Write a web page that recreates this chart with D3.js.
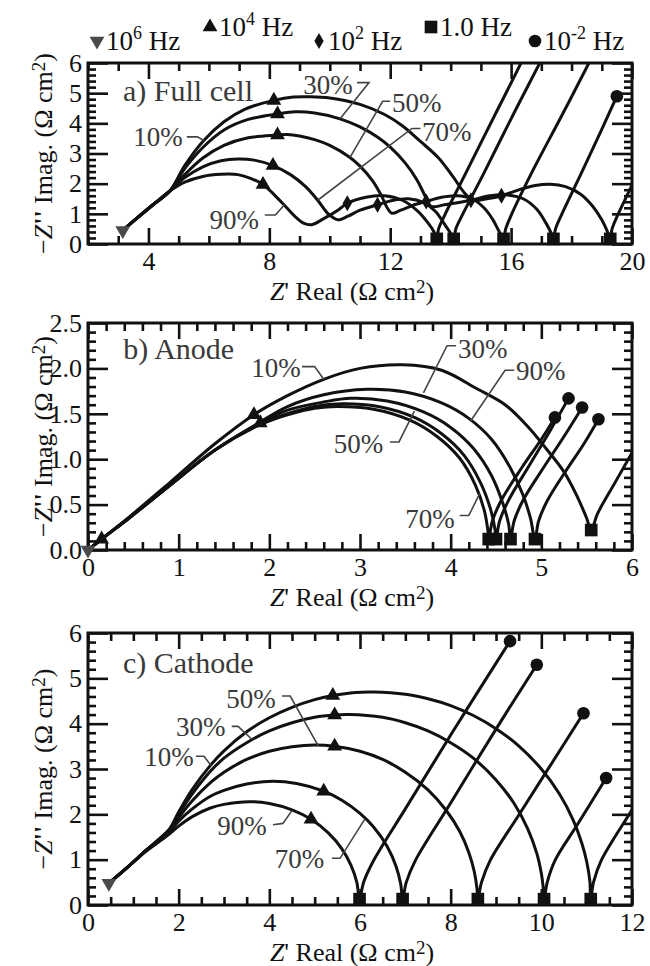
<!DOCTYPE html>
<html>
<head>
<meta charset="utf-8">
<script src="https://cdn.jsdelivr.net/npm/d3@7"></script>
<style>
  body { margin: 0; background: #fff; }
  .tick line { stroke: #111; stroke-width: 2.6; }
  .domain { display: none; }
</style>
</head>
<body>
<svg id="chart" width="650" height="966"></svg>
<script>
// ---------------- Full cell impedance spectra (Z', -Z'') ----------------
const full10 = [[3.15,0.45],[3.6,0.84],[4.1,1.26],[4.7,1.75],[5.2,2.6],[5.83,3.43],[6.5,4.05],[7.2,4.47],[8.15,4.76],[8.8,4.87],[9.33,4.88],[10.0,4.84],[11.0,4.63],[11.8,4.3],[12.4,3.92],[13.0,3.4],[13.6,2.85],[14.1,2.2],[14.45,1.7],[14.75,1.45],[15.2,1.5],[15.68,1.6],[16.3,1.81],[16.8,1.94],[17.3,1.98],[17.8,1.9],[18.3,1.65],[18.7,1.25],[19.0,0.8],[19.17,0.45],[19.28,0.17],[19.34,0.5],[19.5,0.9],[20.0,1.95],[20.3,2.6]];
const full30 = [[3.15,0.45],[3.6,0.84],[4.1,1.26],[4.7,1.75],[5.2,2.5],[5.8,3.2],[6.5,3.78],[7.3,4.13],[8.27,4.31],[8.86,4.38],[9.5,4.34],[10.34,4.15],[11.0,3.88],[11.6,3.53],[12.0,3.21],[12.5,2.68],[12.9,2.1],[13.15,1.6],[13.35,1.25],[13.8,1.3],[14.67,1.45],[15.3,1.6],[15.9,1.62],[16.4,1.5],[16.85,1.15],[17.15,0.7],[17.33,0.35],[17.4,0.17],[17.47,0.5],[17.66,0.95],[18.3,2.3],[19.0,3.8],[19.5,4.9]];
const full50 = [[3.15,0.45],[3.6,0.84],[4.1,1.26],[4.7,1.75],[5.2,2.3],[5.8,2.85],[6.5,3.27],[7.3,3.52],[8.27,3.61],[8.6,3.63],[9.0,3.58],[9.5,3.46],[10.0,3.27],[10.67,2.87],[11.0,2.58],[11.4,2.12],[11.7,1.62],[11.9,1.2],[12.05,1.02],[12.35,1.12],[12.8,1.3],[13.19,1.41],[13.7,1.55],[14.2,1.6],[14.7,1.5],[15.1,1.2],[15.4,0.8],[15.6,0.42],[15.75,0.17],[15.82,0.5],[16.0,0.95],[16.7,2.4],[17.7,4.3],[18.6,6.05],[18.8,6.45]];
const full70 = [[3.15,0.45],[3.6,0.84],[4.1,1.26],[4.7,1.75],[5.2,2.2],[5.8,2.56],[6.4,2.76],[6.96,2.82],[7.5,2.78],[8.12,2.6],[8.7,2.3],[9.2,1.9],[9.6,1.45],[9.95,1.0],[10.28,0.8],[10.6,0.92],[11.0,1.12],[11.58,1.3],[12.1,1.45],[12.6,1.5],[13.1,1.38],[13.5,1.08],[13.8,0.65],[14.0,0.35],[14.1,0.17],[14.17,0.5],[14.38,0.95],[15.1,2.35],[16.1,4.35],[17.0,6.1],[17.2,6.5]];
const full90 = [[3.15,0.45],[3.6,0.84],[4.1,1.26],[4.7,1.75],[5.2,2.05],[5.8,2.24],[6.4,2.31],[6.96,2.3],[7.4,2.17],[7.79,1.97],[8.38,1.41],[8.86,0.9],[9.15,0.68],[9.4,0.64],[9.8,0.84],[10.28,1.13],[10.58,1.35],[11.2,1.55],[11.8,1.6],[12.4,1.45],[12.9,1.1],[13.25,0.7],[13.45,0.4],[13.54,0.17],[13.6,0.5],[13.8,0.95],[14.5,2.35],[15.5,4.35],[16.35,6.05],[16.5,6.4]];
// frequency markers on the full cell curves
const fullHz6 = [[3.15,0.45]];
const fullHz4 = [[8.15,4.76],[8.27,4.31],[8.27,3.61],[8.12,2.6],[7.79,1.97]];
const fullHz2 = [[15.68,1.6],[14.67,1.45],[13.19,1.41],[11.58,1.3],[10.58,1.35]];
const fullHz1 = [[19.28,0.17],[17.4,0.17],[15.75,0.17],[14.1,0.17],[13.54,0.17]];
const fullHzLow = [[19.5,4.9]];

// ---------------- Anode ----------------
const anode10 = [[0,0],[0.15,0.12],[0.45,0.36],[0.9,0.74],[1.4,1.17],[1.83,1.49],[2.2,1.7],[2.6,1.88],[3.0,2.0],[3.47,2.04],[3.9,1.98],[4.3,1.77],[4.6,1.6],[4.85,1.36],[5.05,1.12],[5.25,0.86],[5.4,0.58],[5.5,0.35],[5.55,0.22],[5.62,0.4],[5.8,0.72],[6.0,1.07],[6.1,1.25]];
const anode30 = [[0,0],[0.15,0.12],[0.45,0.35],[0.9,0.71],[1.4,1.1],[1.9,1.41],[2.2,1.58],[2.6,1.71],[3.08,1.77],[3.5,1.74],[3.9,1.62],[4.2,1.45],[4.45,1.22],[4.65,0.92],[4.8,0.6],[4.88,0.35],[4.93,0.12],[4.97,0.32],[5.07,0.55],[5.27,0.87],[5.47,1.17],[5.63,1.44]];
const anode50 = [[0,0],[0.15,0.12],[0.45,0.35],[0.9,0.71],[1.4,1.1],[1.9,1.4],[2.2,1.54],[2.6,1.63],[2.9,1.67],[3.3,1.64],[3.7,1.52],[4.0,1.35],[4.25,1.12],[4.45,0.82],[4.58,0.5],[4.64,0.28],[4.66,0.12],[4.7,0.32],[4.8,0.55],[5.0,0.87],[5.25,1.25],[5.45,1.57]];
const anode70 = [[0,0],[0.15,0.12],[0.45,0.35],[0.9,0.71],[1.4,1.1],[1.9,1.39],[2.2,1.5],[2.5,1.58],[2.8,1.61],[3.2,1.58],[3.6,1.46],[3.9,1.28],[4.15,1.04],[4.33,0.74],[4.44,0.45],[4.49,0.22],[4.5,0.12],[4.54,0.32],[4.64,0.55],[4.86,0.92],[5.1,1.32],[5.3,1.67]];
const anode90 = [[0,0],[0.15,0.12],[0.45,0.35],[0.9,0.71],[1.4,1.1],[1.9,1.38],[2.2,1.49],[2.5,1.56],[2.75,1.58],[3.15,1.55],[3.55,1.43],[3.85,1.25],[4.1,1.01],[4.27,0.72],[4.37,0.44],[4.41,0.22],[4.42,0.12],[4.46,0.32],[4.56,0.55],[4.78,0.9],[5.0,1.22],[5.15,1.46]];
const anodeHz6 = [[0.0,0.0]];
const anodeHz4 = [[0.15,0.12],[1.83,1.49],[1.9,1.4]];
const anodeHz1 = [[5.55,0.22],[4.93,0.12],[4.66,0.12],[4.5,0.12],[4.42,0.12]];
const anodeHzLow = [[5.63,1.44],[5.45,1.57],[5.3,1.67],[5.15,1.46]];

// ---------------- Cathode ----------------
const cath10 = [[0.46,0.48],[0.9,0.86],[1.3,1.22],[1.6,1.48],[1.8,1.68],[2.0,2.05],[2.3,2.55],[2.7,3.08],[3.0,3.4],[3.5,3.82],[4.0,4.13],[4.5,4.36],[5.0,4.53],[5.4,4.62],[5.9,4.69],[6.3,4.7],[7.0,4.65],[7.5,4.55],[8.0,4.4],[8.5,4.18],[9.0,3.89],[9.5,3.51],[10.0,3.0],[10.4,2.45],[10.7,1.88],[10.9,1.34],[11.0,0.96],[11.07,0.53],[11.09,0.13],[11.15,0.5],[11.32,0.98],[12.0,2.1],[12.3,2.6]];
const cath30 = [[0.46,0.48],[0.9,0.86],[1.3,1.22],[1.6,1.48],[1.8,1.67],[2.0,2.0],[2.3,2.45],[2.7,2.95],[3.0,3.24],[3.5,3.58],[4.0,3.84],[4.5,4.02],[5.0,4.14],[5.44,4.19],[5.75,4.2],[6.5,4.14],[7.0,4.02],[7.5,3.84],[8.0,3.58],[8.5,3.24],[9.0,2.76],[9.4,2.24],[9.7,1.68],[9.9,1.14],[10.0,0.7],[10.04,0.4],[10.06,0.13],[10.13,0.5],[10.3,0.98],[10.8,1.78],[11.43,2.8]];
const cath50 = [[0.46,0.48],[0.9,0.86],[1.3,1.22],[1.6,1.47],[1.8,1.64],[2.0,1.93],[2.3,2.3],[2.7,2.7],[3.0,2.93],[3.5,3.21],[4.0,3.39],[4.5,3.49],[5.0,3.53],[5.44,3.5],[6.0,3.39],[6.5,3.21],[7.0,2.93],[7.5,2.54],[7.9,2.09],[8.2,1.62],[8.4,1.16],[8.52,0.74],[8.58,0.37],[8.6,0.13],[8.68,0.5],[8.87,0.98],[9.5,1.98],[10.2,3.08],[10.93,4.23]];
const cath70 = [[0.46,0.48],[0.9,0.86],[1.3,1.22],[1.6,1.46],[1.8,1.62],[2.0,1.85],[2.3,2.12],[2.7,2.4],[3.0,2.53],[3.5,2.67],[4.07,2.73],[4.6,2.68],[5.2,2.51],[5.6,2.31],[6.0,2.02],[6.3,1.72],[6.6,1.29],[6.8,0.84],[6.9,0.45],[6.94,0.13],[7.02,0.5],[7.22,0.98],[8.0,2.25],[9.0,3.88],[9.9,5.3]];
const cath90 = [[0.46,0.48],[0.9,0.86],[1.3,1.2],[1.6,1.42],[1.8,1.57],[2.0,1.74],[2.3,1.95],[2.7,2.14],[3.0,2.22],[3.55,2.28],[4.0,2.24],[4.5,2.1],[4.92,1.89],[5.3,1.59],[5.6,1.24],[5.8,0.88],[5.93,0.5],[5.99,0.13],[6.08,0.5],[6.3,0.98],[7.0,2.12],[8.0,3.75],[9.31,5.82]];
const cathHz6 = [[0.46,0.48]];
const cathHz4 = [[5.4,4.62],[5.44,4.19],[5.44,3.5],[5.2,2.51],[4.92,1.89]];
const cathHz1 = [[11.09,0.13],[10.06,0.13],[8.6,0.13],[6.94,0.13],[5.99,0.13]];
const cathHzLow = [[11.43,2.8],[10.93,4.23],[9.9,5.3],[9.31,5.82]];

// ---------------- Axis ticks ----------------
const fullXTicks = [4, 8, 12, 16, 20];
const fullYTicks = [0, 1, 2, 3, 4, 5, 6];
const anodeXTicks = [0, 1, 2, 3, 4, 5, 6];
const anodeYTicks = [0, 0.5, 1.0, 1.5, 2.0, 2.5];
const cathXTicks = [0, 2, 4, 6, 8, 10, 12];
const cathYTicks = [0, 1, 2, 3, 4, 5, 6];

const FONT = "'Liberation Serif','Times New Roman',Times,serif";
const INK = '#111';
const GREY = '#3a3a3a';
const svg = d3.select('#chart');

const panels = [
  { id: 'a', x0: 88, x1: 632, y0: 63, y1: 244, xd: [2, 20], yd: [0, 6],
    xMajor: fullXTicks, xMinor: d3.range(2, 20.001, 1), yMajor: fullYTicks, yMinor: d3.range(0, 6.001, 0.2),
    xFmt: d3.format('d'), yFmt: d3.format('d'),
    series: [full10, full30, full50, full70, full90],
    hz6: fullHz6, hz4: fullHz4, hz2: fullHz2, hz1: fullHz1, hzLow: fullHzLow,
    title: { text: 'a) Full cell', at: [3.16, 4.73] },
    labels: [
      { text: '10%', at: [3.5, 3.25], leader: [[5.27, 3.55], [5.62, 3.55], [5.83, 3.43]] },
      { text: '30%', at: [9.12, 4.96], leader: [[10.9, 5.35], [11.3, 5.35], [10.34, 4.15]] },
      { text: '50%', at: [12.06, 4.39], leader: [[12.0, 4.73], [11.75, 4.73], [10.67, 2.87]] },
      { text: '70%', at: [13.05, 3.43], leader: [[13.0, 3.83], [12.72, 3.83], [9.6, 1.45]] },
      { text: '90%', at: [6.02, 0.5], leader: [[7.85, 0.96], [8.2, 0.96], [8.5, 1.3]] }
    ] },
  { id: 'b', x0: 88, x1: 632, y0: 323, y1: 550, xd: [0, 6], yd: [0, 2.5],
    xMajor: anodeXTicks, xMinor: d3.range(0, 6.001, 0.2), yMajor: anodeYTicks, yMinor: d3.range(0, 2.501, 0.1),
    xFmt: d3.format('d'), yFmt: d3.format('.1f'),
    series: [anode10, anode30, anode50, anode70, anode90],
    hz6: anodeHz6, hz4: anodeHz4, hz2: [], hz1: anodeHz1, hzLow: anodeHzLow,
    title: { text: 'b) Anode', at: [0.39, 2.1] },
    labels: [
      { text: '10%', at: [1.8, 1.9], leader: [[2.36, 2.02], [2.5, 2.02], [2.6, 1.88]] },
      { text: '30%', at: [4.08, 2.12], leader: [[4.06, 2.25], [3.96, 2.25], [3.7, 1.73]] },
      { text: '90%', at: [4.72, 1.87], leader: [[4.7, 1.98], [4.6, 1.98], [4.22, 1.42]] },
      { text: '50%', at: [2.71, 1.07], leader: [[3.33, 1.19], [3.43, 1.19], [3.6, 1.53]] },
      { text: '70%', at: [3.5, 0.24], leader: [[4.1, 0.38], [4.2, 0.38], [4.32, 0.62]] }
    ] },
  { id: 'c', x0: 88, x1: 632, y0: 633, y1: 905, xd: [0, 12], yd: [0, 6],
    xMajor: cathXTicks, xMinor: d3.range(0, 12.001, 0.5), yMajor: cathYTicks, yMinor: d3.range(0, 6.001, 0.2),
    xFmt: d3.format('d'), yFmt: d3.format('d'),
    series: [cath10, cath30, cath50, cath70, cath90],
    hz6: cathHz6, hz4: cathHz4, hz2: [], hz1: cathHz1, hzLow: cathHzLow,
    title: { text: 'c) Cathode', at: [0.77, 5.12] },
    labels: [
      { text: '50%', at: [3.05, 4.35], leader: [[4.28, 4.61], [4.46, 4.61], [5.08, 3.51]] },
      { text: '30%', at: [1.94, 3.72], leader: [[3.17, 3.94], [3.31, 3.94], [3.62, 3.65]] },
      { text: '10%', at: [1.24, 3.06], leader: [[2.38, 3.28], [2.56, 3.28], [2.71, 3.08]] },
      { text: '90%', at: [2.85, 1.54], leader: [[4.08, 1.77], [4.3, 1.8], [4.49, 2.07]] },
      { text: '70%', at: [4.12, 0.81], leader: [[5.38, 1.03], [5.56, 1.03], [6.11, 1.9]] }
    ] }
];

const symTri = d3.symbol().type(d3.symbolTriangle).size(95);
const symSq = d3.symbol().type(d3.symbolSquare).size(160);
const symCirc = d3.symbol().type(d3.symbolCircle).size(125);
const symDia = d3.symbol().type(d3.symbolDiamond).size(75);

function drawAxes(g, p, x, y) {
  const notIn = (arr) => (v) => !arr.some(m => Math.abs(m - v) < 1e-6);
  const xMin = p.xMinor.filter(notIn(p.xMajor));
  const yMin = p.yMinor.filter(notIn(p.yMajor));
  const font = (sel) => sel.attr('font-family', FONT).attr('font-size', 26).attr('fill', INK);

  // bottom
  g.append('g').attr('transform', `translate(0,${p.y1})`)
    .call(d3.axisBottom(x).tickValues(xMin).tickSize(-8).tickFormat(''));
  g.append('g').attr('transform', `translate(0,${p.y1})`)
    .call(d3.axisBottom(x).tickValues(p.xMajor).tickSize(-16).tickPadding(8).tickFormat(p.xFmt))
    .call(ax => ax.selectAll('text').call(font));
  // top
  g.append('g').attr('transform', `translate(0,${p.y0})`)
    .call(d3.axisTop(x).tickValues(xMin).tickSize(-8).tickFormat(''));
  g.append('g').attr('transform', `translate(0,${p.y0})`)
    .call(d3.axisTop(x).tickValues(p.xMajor).tickSize(-16).tickFormat(''));
  // left
  g.append('g').attr('transform', `translate(${p.x0},0)`)
    .call(d3.axisLeft(y).tickValues(yMin).tickSize(-8).tickFormat(''));
  g.append('g').attr('transform', `translate(${p.x0},0)`)
    .call(d3.axisLeft(y).tickValues(p.yMajor).tickSize(-20).tickPadding(6).tickFormat(p.yFmt))
    .call(ax => ax.selectAll('text').call(font));
  // right
  g.append('g').attr('transform', `translate(${p.x1},0)`)
    .call(d3.axisRight(y).tickValues(yMin).tickSize(-8).tickFormat(''));
  g.append('g').attr('transform', `translate(${p.x1},0)`)
    .call(d3.axisRight(y).tickValues(p.yMajor).tickSize(-20).tickFormat(''));
  g.selectAll('.domain').remove();
}

function realTitle(g, cx, cy) {
  const t = g.append('text').attr('x', cx).attr('y', cy).attr('text-anchor', 'middle')
    .attr('font-family', FONT).attr('font-size', 26).attr('fill', INK);
  t.append('tspan').attr('font-style', 'italic').text('Z');
  t.append('tspan').text("' Real (\u03A9 cm");
  t.append('tspan').attr('font-size', 19).attr('dy', -7).text('2');
  t.append('tspan').attr('dy', 7).text(')');
}

function imagTitle(g, cx, cy) {
  const t = g.append('text').attr('transform', `translate(${cx},${cy}) rotate(-90)`)
    .attr('text-anchor', 'middle')
    .attr('font-family', FONT).attr('font-size', 26).attr('fill', INK);
  t.append('tspan').text('\u2212');
  t.append('tspan').attr('font-style', 'italic').text('Z');
  t.append('tspan').attr('font-weight', 'bold').text("''");
  t.append('tspan').text(' Imag. (\u03A9 cm');
  t.append('tspan').attr('font-size', 19).attr('dy', -7).text('2');
  t.append('tspan').attr('dy', 7).text(')');
}

panels.forEach(p => {
  const x = d3.scaleLinear().domain(p.xd).range([p.x0, p.x1]);
  const y = d3.scaleLinear().domain(p.yd).range([p.y1, p.y0]);
  const g = svg.append('g').attr('class', 'panel-' + p.id);

  const clipId = 'clip-' + p.id;
  svg.append('defs').append('clipPath').attr('id', clipId)
    .append('rect').attr('x', p.x0).attr('y', p.y0).attr('width', p.x1 - p.x0).attr('height', p.y1 - p.y0);

  drawAxes(g, p, x, y);

  // curves
  const line = d3.line().x(d => x(d[0])).y(d => y(d[1])).curve(d3.curveCatmullRom.alpha(0.5));
  g.append('g').attr('clip-path', `url(#${clipId})`)
    .selectAll('path').data(p.series).join('path')
    .attr('d', line).attr('fill', 'none').attr('stroke', INK).attr('stroke-width', 3)
    .attr('stroke-linejoin', 'round');

  // frame
  g.append('rect').attr('x', p.x0).attr('y', p.y0).attr('width', p.x1 - p.x0).attr('height', p.y1 - p.y0)
    .attr('fill', 'none').attr('stroke', INK).attr('stroke-width', 3);

  // frequency markers
  const mk = g.append('g');
  const place = (sym, pts, fill, rot) => mk.append('g').selectAll('path').data(pts).join('path')
    .attr('d', sym).attr('fill', fill)
    .attr('transform', d => `translate(${x(d[0])},${y(d[1])})` + (rot ? ' rotate(180)' : ''));
  place(symTri, p.hz6, '#4a4a4a', true);
  place(symTri, p.hz4, INK, false);
  place(symDia, p.hz2, INK, false);
  place(symSq, p.hz1, INK, false);
  place(symCirc, p.hzLow, INK, false);

  // series labels with leader lines
  const straight = d3.line().x(d => x(d[0])).y(d => y(d[1]));
  const ann = g.append('g');
  p.labels.forEach(l => {
    ann.append('path').attr('d', straight(l.leader)).attr('fill', 'none')
      .attr('stroke', '#444').attr('stroke-width', 1.6);
    ann.append('text').attr('x', x(l.at[0])).attr('y', y(l.at[1]))
      .attr('font-family', FONT).attr('font-size', 27).attr('fill', GREY).text(l.text);
  });
  ann.append('text').attr('x', x(p.title.at[0])).attr('y', y(p.title.at[1]))
    .attr('font-family', FONT).attr('font-size', 30).attr('fill', GREY).text(p.title.text);

  realTitle(g, 352, p.y1 + 56);
  imagTitle(g, 52, (p.y0 + p.y1) / 2);
});

// ---------------- Frequency legend ----------------
const legendItems = [
  { sym: symTri, rot: true, fill: '#4a4a4a', base: '10', sup: '6', unit: ' Hz' },
  { sym: symTri, rot: false, fill: INK, base: '10', sup: '4', unit: ' Hz' },
  { sym: symDia, rot: false, fill: INK, base: '10', sup: '2', unit: ' Hz' },
  { sym: symSq, rot: false, fill: INK, base: '1.0', sup: '', unit: ' Hz' },
  { sym: symCirc, rot: false, fill: INK, base: '10', sup: '-2', unit: ' Hz' }
];
const legendPos = [[97, 50], [210, 36], [319, 50], [431, 36], [535, 50]];
const lg = svg.append('g');
legendItems.forEach((it, i) => {
  const [lx, ly] = legendPos[i];
  lg.append('path').attr('d', it.sym).attr('fill', it.fill)
    .attr('transform', `translate(${lx},${ly - 9})` + (it.rot ? ' rotate(180)' : ''));
  const t = lg.append('text').attr('x', lx + 9).attr('y', ly)
    .attr('font-family', FONT).attr('font-size', 27).attr('fill', INK);
  t.append('tspan').text(it.base);
  if (it.sup) {
    t.append('tspan').attr('font-size', 18).attr('dy', -11).text(it.sup);
    t.append('tspan').attr('dy', 11).text(it.unit);
  } else {
    t.append('tspan').text(it.unit);
  }
});
</script>
</body>
</html>
